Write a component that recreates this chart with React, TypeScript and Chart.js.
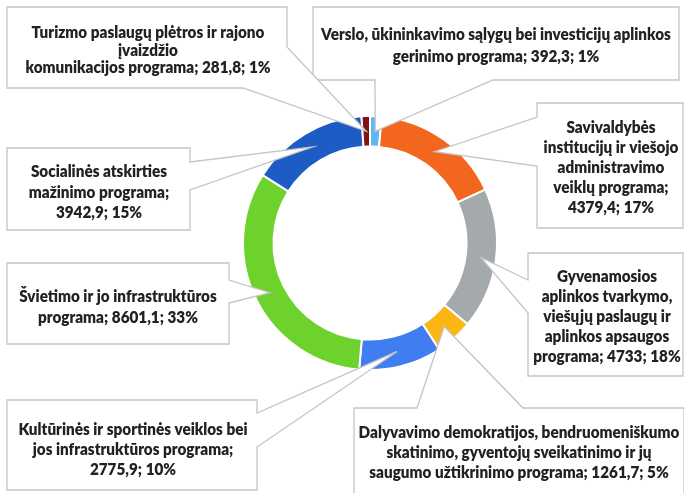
import React, { useEffect, useRef } from "react";
import { Chart, registerables } from "chart.js";

Chart.register(...registerables);

// ---- data ----
const categories: string[] = [
  "Verslo, ūkininkavimo sąlygų bei investicijų aplinkos\ngerinimo programa",
  "Savivaldybės\ninstitucijų ir viešojo\nadministravimo\nveiklų programa",
  "Gyvenamosios\naplinkos tvarkymo,\nviešųjų paslaugų ir\naplinkos apsaugos\nprograma",
  "Dalyvavimo demokratijos, bendruomeniškumo\nskatinimo, gyventojų sveikatinimo ir jų\nsaugumo užtikrinimo programa",
  "Kultūrinės ir sportinės veiklos bei\njos infrastruktūros programa",
  "Švietimo ir jo infrastruktūros\nprograma",
  "Socialinės atskirties\nmažinimo programa",
  "Turizmo paslaugų plėtros ir rajono\nįvaizdžio\nkomunikacijos programa",
];
const values: number[] = [392.3, 4379.4, 4733, 1261.7, 2775.9, 8601.1, 3942.9, 281.8];
const percents: number[] = [1, 17, 18, 5, 10, 33, 15, 1];

// ---- styles ----
const colors: string[] = [
  "#62b6f2",
  "#f3661d",
  "#a4aaac",
  "#fbb614",
  "#3f7df0",
  "#6dd22c",
  "#1d5bc5",
  "#7d1611",
];
const FONT = "Lato, 'Open Sans', 'Liberation Sans', sans-serif";
const FONT_WEIGHT = "800";
const REF_LINE = "Verslo, ūkininkavimo sąlygų bei investicijų aplinkos";
const REF_WIDTH = 350;
const TEXT_STRETCH = 1.1; // glyphs drawn taller than wide (condensed look)

// ---- callout layout (box x, y, w, h; text centre x; first line y; line height; wedge base points) ----
const valueOnNewLine: boolean[] = [false, true, false, false, true, false, true, false];
const boxes: number[][] = [
  [313, 7, 366, 73],
  [537, 103, 146, 125],
  [528, 253, 155, 123],
  [354, 408, 330, 90],
  [7, 400, 250, 90],
  [7, 263, 222, 81],
  [7, 148, 183, 82],
  [7, 7, 280, 81],
];
const textPos: number[][] = [
  [496, 35, 22],
  [611, 128, 20],
  [607, 277, 20],
  [519, 433, 20],
  [133, 430, 20],
  [118, 297, 21],
  [99, 172, 20.5],
  [148, 33, 17.5],
];
const wedgeBase: number[][][] = [
  [[375, 80], [493, 80]],
  [[537, 117], [537, 166]],
  [[528, 280], [528, 313]],
  [[417, 408], [523, 408]],
  [[257, 413], [257, 447]],
  [[229, 280], [229, 303]],
  [[190, 162], [190, 190]],
  [[287, 47], [243, 88]],
];

function fmt(v: number): string {
  return String(v).replace(".", ",");
}

function labelLines(i: number): string[] {
  const txt =
    categories[i] + ";" + (valueOnNewLine[i] ? "\n" : " ") + fmt(values[i]) + "; " + percents[i] + "%";
  return txt.split("\n");
}

function perimT(b: number[], px: number, py: number): number {
  const [x, y, w, h] = b;
  if (Math.abs(py - y) < 0.5) return px - x;
  if (Math.abs(px - (x + w)) < 0.5) return w + (py - y);
  if (Math.abs(py - (y + h)) < 0.5) return w + h + (x + w - px);
  return 2 * w + h + (y + h - py);
}

function perimPt(b: number[], t: number): [number, number] {
  const [x, y, w, h] = b;
  const P = 2 * w + 2 * h;
  t = ((t % P) + P) % P;
  if (t <= w) return [x + t, y];
  if (t <= w + h) return [x + w, y + (t - w)];
  if (t <= 2 * w + h) return [x + w - (t - w - h), y + h];
  return [x, y + h - (t - 2 * w - h)];
}

function calloutPath(ctx: CanvasRenderingContext2D, b: number[], base: number[][], tip: { x: number; y: number }) {
  const [, , w, h] = b;
  const P = 2 * w + 2 * h;
  let t1 = perimT(b, base[0][0], base[0][1]);
  let t2 = perimT(b, base[1][0], base[1][1]);
  if (((t2 - t1 + P) % P) >= P / 2) {
    const tmp = t1;
    t1 = t2;
    t2 = tmp;
  }
  const start = t2;
  const end = t1;
  const dEnd = (end - start + P) % P;
  const corners = [0, w, w + h, 2 * w + h]
    .map((c) => ({ c, d: (c - start + P) % P }))
    .filter((o) => o.d > 0 && o.d < dEnd)
    .sort((a, b2) => a.d - b2.d);
  ctx.beginPath();
  const s = perimPt(b, start);
  ctx.moveTo(s[0], s[1]);
  corners.forEach((o) => {
    const p = perimPt(b, o.c);
    ctx.lineTo(p[0], p[1]);
  });
  const e = perimPt(b, end);
  ctx.lineTo(e[0], e[1]);
  ctx.lineTo(tip.x, tip.y);
  ctx.closePath();
}

const calloutPlugin = {
  id: "callouts",
  afterDatasetsDraw(chart: any) {
    const ctx: CanvasRenderingContext2D = chart.ctx;
    const meta = chart.getDatasetMeta(0);
    ctx.save();
    ctx.font = `${FONT_WEIGHT} 100px ${FONT}`;
    const size = (100 * REF_WIDTH * TEXT_STRETCH) / ctx.measureText(REF_LINE).width;
    meta.data.forEach((arc: any, i: number) => {
      const b = boxes[i];
      const tip = arc.tooltipPosition(false);
      calloutPath(ctx, b, wedgeBase[i], tip);
      ctx.fillStyle = "#ffffff";
      ctx.fill();
      ctx.strokeStyle = "#c4c4c4";
      ctx.lineWidth = 1.3;
      ctx.lineJoin = "miter";
      ctx.stroke();

      const [cx, y0, lh] = textPos[i];
      ctx.fillStyle = "#222222";
      ctx.font = `${FONT_WEIGHT} ${size.toFixed(2)}px ${FONT}`;
      ctx.textAlign = "center";
      ctx.textBaseline = "middle";
      labelLines(i).forEach((ln, j) => {
        ctx.save();
        ctx.translate(cx, y0 + j * lh);
        ctx.scale(1 / TEXT_STRETCH, 1);
        ctx.fillText(ln, 0, 0, (b[2] - 4) * TEXT_STRETCH);
        ctx.restore();
      });
    });
    ctx.restore();
  },
};

export default function App() {
  const ref = useRef<HTMLCanvasElement | null>(null);
  useEffect(() => {
    if (!ref.current) return;
    const chart = new Chart(ref.current, {
      type: "doughnut",
      data: {
        labels: categories.map((c) => c.replace(/\n/g, " ")),
        datasets: [
          {
            data: values,
            backgroundColor: colors,
            borderColor: "#ffffff",
            borderWidth: 2,
            hoverOffset: 0,
          },
        ],
      },
      options: {
        responsive: false,
        animation: false,
        devicePixelRatio: 1,
        cutout: "76%",
        rotation: 0,
        layout: { padding: { left: 242, right: 186, top: 115, bottom: 122 } },
        plugins: {
          legend: { display: false },
          tooltip: { enabled: false },
        },
      },
      plugins: [calloutPlugin],
    });
    return () => chart.destroy();
  }, []);
  return (
    <div style={{ position: "fixed", left: 0, top: 0, width: 684, height: 493, background: "#fff" }}>
      <canvas ref={ref} width={684} height={493} style={{ display: "block", width: 684, height: 493 }} />
    </div>
  );
}
